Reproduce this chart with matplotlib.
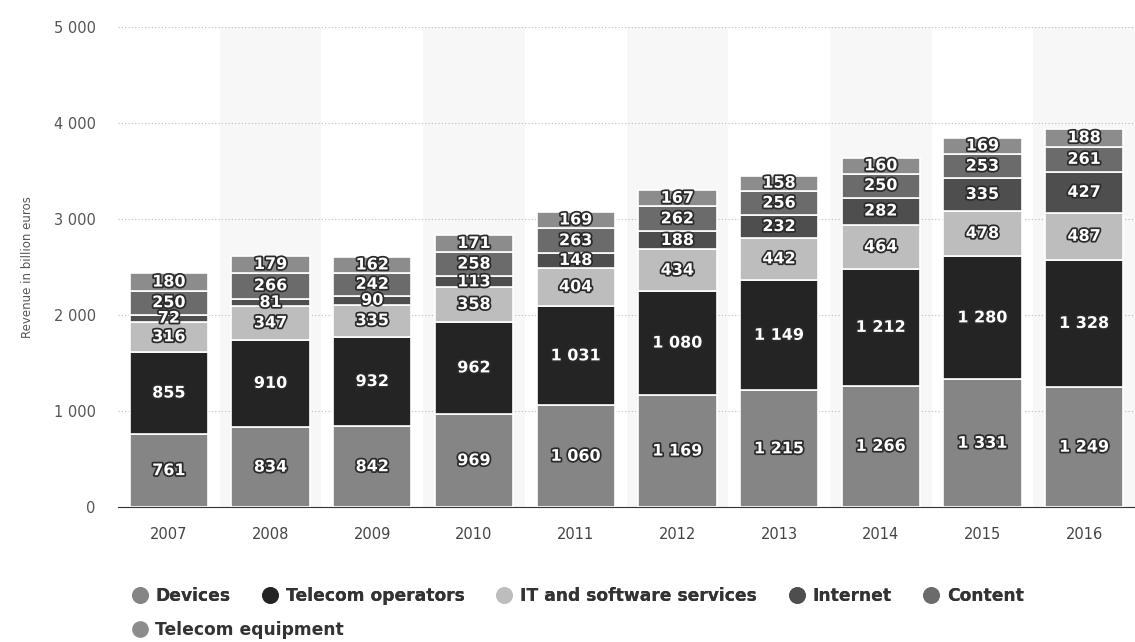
import matplotlib.pyplot as plt
import matplotlib.patheffects as pe
from matplotlib.lines import Line2D
import numpy as np

years = ["2007", "2008", "2009", "2010", "2011", "2012", "2013", "2014", "2015", "2016"]
series = ["Devices", "Telecom operators", "IT and software services", "Internet", "Content", "Telecom equipment"]
devices = [761, 834, 842, 969, 1060, 1169, 1215, 1266, 1331, 1249]
telecom_operators = [855, 910, 932, 962, 1031, 1080, 1149, 1212, 1280, 1328]
it_services = [316, 347, 335, 358, 404, 434, 442, 464, 478, 487]
internet = [72, 81, 90, 113, 148, 188, 232, 282, 335, 427]
content = [250, 266, 242, 258, 263, 262, 256, 250, 253, 261]
telecom_equipment = [180, 179, 162, 171, 169, 167, 158, 160, 169, 188]
colors = ["#858585", "#242424", "#bdbdbd", "#4e4e4e", "#6b6b6b", "#8c8c8c"]

data = [devices, telecom_operators, it_services, internet, content, telecom_equipment]


def fmt(v):
    return f"{v:,}".replace(",", " ")


fig = plt.figure(figsize=(11.35, 6.42), dpi=100)
ax = fig.add_axes([0.104, 0.21, 0.896, 0.748])

x = np.arange(len(years))
# alternating light background columns
for i in x:
    if i % 2 == 1:
        ax.axvspan(i - 0.5, i + 0.5, color="#f7f7f7", zorder=0, lw=0)

bottom = np.zeros(len(years))
for vals, name, c in zip(data, series, colors):
    vals = np.array(vals)
    ax.bar(x, vals, 0.77, bottom=bottom, color=c, edgecolor="white", linewidth=1.2, zorder=3, label=name)
    for xi, b, v in zip(x, bottom, vals):
        ax.text(xi, b + v / 2, fmt(v), ha="center", va="center", color="white",
                fontsize=11.5, fontweight="bold", zorder=5,
                path_effects=[pe.withStroke(linewidth=2.5, foreground="#2a2a2a")])
    bottom += vals

ax.set_xlim(-0.5, len(years) - 0.5)
ax.set_ylim(0, 5000)
ax.set_yticks(range(0, 5001, 1000))
ax.set_yticklabels([fmt(v) for v in range(0, 5001, 1000)], color="#555555", fontsize=10.5)
ax.set_xticks(x)
ax.set_xticklabels(years, color="#444444", fontsize=10.5)
ax.tick_params(axis="x", length=0, pad=14)
ax.tick_params(axis="y", length=0, pad=16)
ax.grid(axis="y", linestyle=(0, (1, 2)), color="#bbbbbb", linewidth=0.8, zorder=1)
ax.set_axisbelow(True)
for s in ["top", "right", "left"]:
    ax.spines[s].set_visible(False)
ax.spines["bottom"].set_color("#333333")
ax.set_ylabel("Revenue in billion euros", color="#555555", fontsize=8.5, labelpad=14)

handles = [Line2D([], [], marker="o", linestyle="", markersize=11, color=c) for c in colors]
leg1 = fig.legend(handles[:5], series[:5], loc="upper left", bbox_to_anchor=(0.1005, 0.109),
                  ncol=5, frameon=False, handletextpad=0.3, columnspacing=1.75, handlelength=1.2,
                  prop={"weight": "bold", "size": 12.3})
for t in leg1.get_texts():
    t.set_color("#333333")
leg2 = fig.legend(handles[5:], series[5:], loc="upper left", bbox_to_anchor=(0.1005, 0.056),
                  frameon=False, handletextpad=0.3, handlelength=1.2,
                  prop={"weight": "bold", "size": 12.3})
for t in leg2.get_texts():
    t.set_color("#333333")
fig.add_artist(leg1)

fig.savefig("out.png", dpi=100)
